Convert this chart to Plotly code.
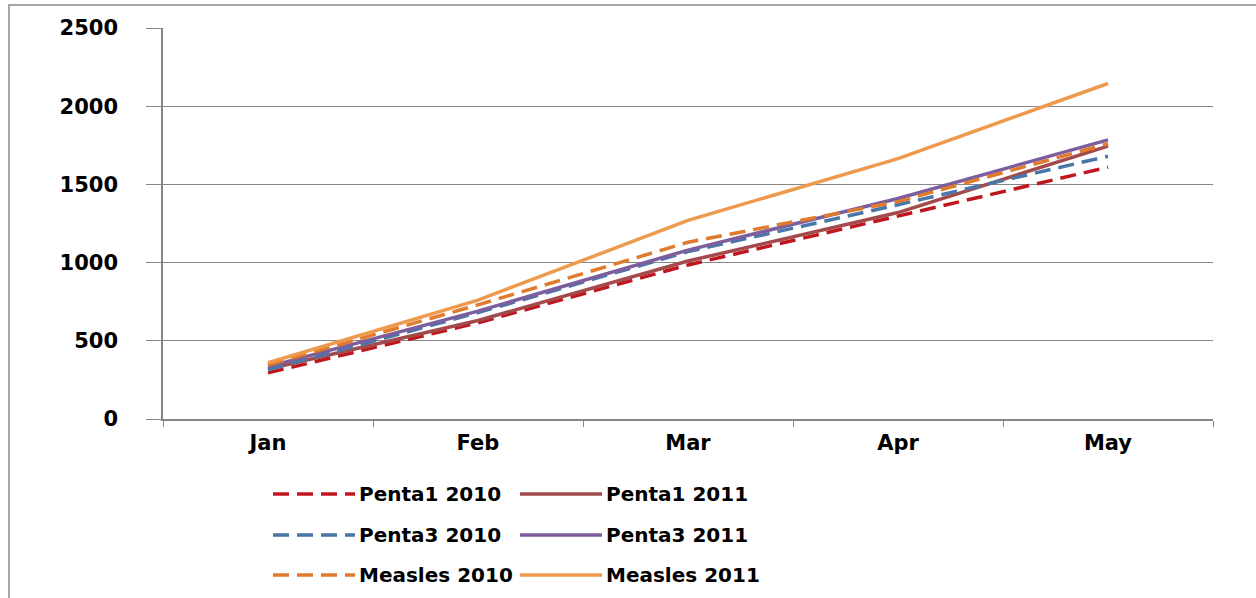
"""
Immunisation coverage by month, 2010 vs 2011.
"""
import plotly.graph_objects as go

# Data
months = ['Jan', 'Feb', 'Mar', 'Apr', 'May']
penta1_2010 = [295, 615, 985, 1300, 1610]
penta1_2011 = [320, 630, 1010, 1320, 1745]
penta3_2010 = [315, 680, 1070, 1370, 1680]
penta3_2011 = [335, 690, 1080, 1410, 1785]
measles_2010 = [345, 730, 1130, 1390, 1760]
measles_2011 = [360, 760, 1270, 1665, 2145]

series_names = ['Penta1 2010', 'Penta1 2011', 'Penta3 2010',
                'Penta3 2011', 'Measles 2010', 'Measles 2011']
series_values = [penta1_2010, penta1_2011, penta3_2010,
                 penta3_2011, measles_2010, measles_2011]
series_colors = ['#C0171F', '#A34A4C', '#4A76A8', '#7C5E9E', '#E07A2C', '#EE9A4E']
series_dash = ['16px,8px', 'solid', '16px,8px', 'solid', '16px,8px', 'solid']

W, H = 1256, 598
L, R, T, B = 163, 1213, 28, 419  # plot area in pixels

FONT = dict(family='DejaVu Sans', size=20, color='black', weight='bold')
TICK_FONT = dict(family='DejaVu Sans', size=21, color='black', weight='bold')


def px_x(p):
    return (p - L) / (R - L)


def px_y(p):
    return (B - p) / (B - T)


fig = go.Figure()

for name, vals, col, dash in zip(series_names, series_values, series_colors, series_dash):
    fig.add_trace(go.Scatter(
        x=months,
        y=vals,
        mode='lines',
        name=name,
        showlegend=False,
        line=dict(color=col, width=3.5, dash=dash),
    ))

# Hand-built legend (two columns, three rows) to get the long line samples
shapes = []
annotations = []
col_x = [273, 520]
row_y = [494, 535, 575]
for i, (name, col, dash) in enumerate(zip(series_names, series_colors, series_dash)):
    cx = col_x[i % 2]
    ry = row_y[i // 2]
    shapes.append(dict(
        type='line', xref='paper', yref='paper',
        x0=px_x(cx), x1=px_x(cx + 82), y0=px_y(ry), y1=px_y(ry),
        line=dict(color=col, width=3.5, dash=dash),
    ))
    annotations.append(dict(
        xref='paper', yref='paper', x=px_x(cx + 84), y=px_y(ry),
        xanchor='left', yanchor='middle', text=name, showarrow=False,
        font=FONT,
    ))

# Outer chart border
shapes.append(dict(
    type='rect', xref='paper', yref='paper',
    x0=px_x(9), x1=px_x(W + 5), y0=px_y(5), y1=px_y(H + 5),
    line=dict(color='#A6A6A6', width=2), layer='below',
))

fig.update_layout(
    width=W,
    height=H,
    margin=dict(l=L, r=W - R, t=T, b=H - B, pad=0),
    paper_bgcolor='white',
    plot_bgcolor='white',
    showlegend=False,
    shapes=shapes,
    annotations=annotations,
    xaxis=dict(
        type='category',
        range=[-0.5, len(months) - 0.5],
        showgrid=False,
        showline=True,
        linecolor='#868686',
        linewidth=1.5,
        ticks='outside',
        tickson='boundaries',
        ticklen=6,
        tickcolor='#868686',
        tickfont=TICK_FONT,
        ticklabelstandoff=4,
    ),
    yaxis=dict(
        range=[0, 2500],
        dtick=500,
        showgrid=True,
        gridcolor='#868686',
        gridwidth=1.2,
        showline=True,
        linecolor='#868686',
        linewidth=1.5,
        ticks='outside',
        ticklen=15,
        tickcolor='#868686',
        tickfont=TICK_FONT,
        ticklabelstandoff=24,
        zeroline=False,
    ),
)

# drop the browser's default 8px body margin so the figure sits at the page corner
fig.write_html("out.html", config={'displayModeBar': False},
               post_script="document.body.style.margin='0';")
